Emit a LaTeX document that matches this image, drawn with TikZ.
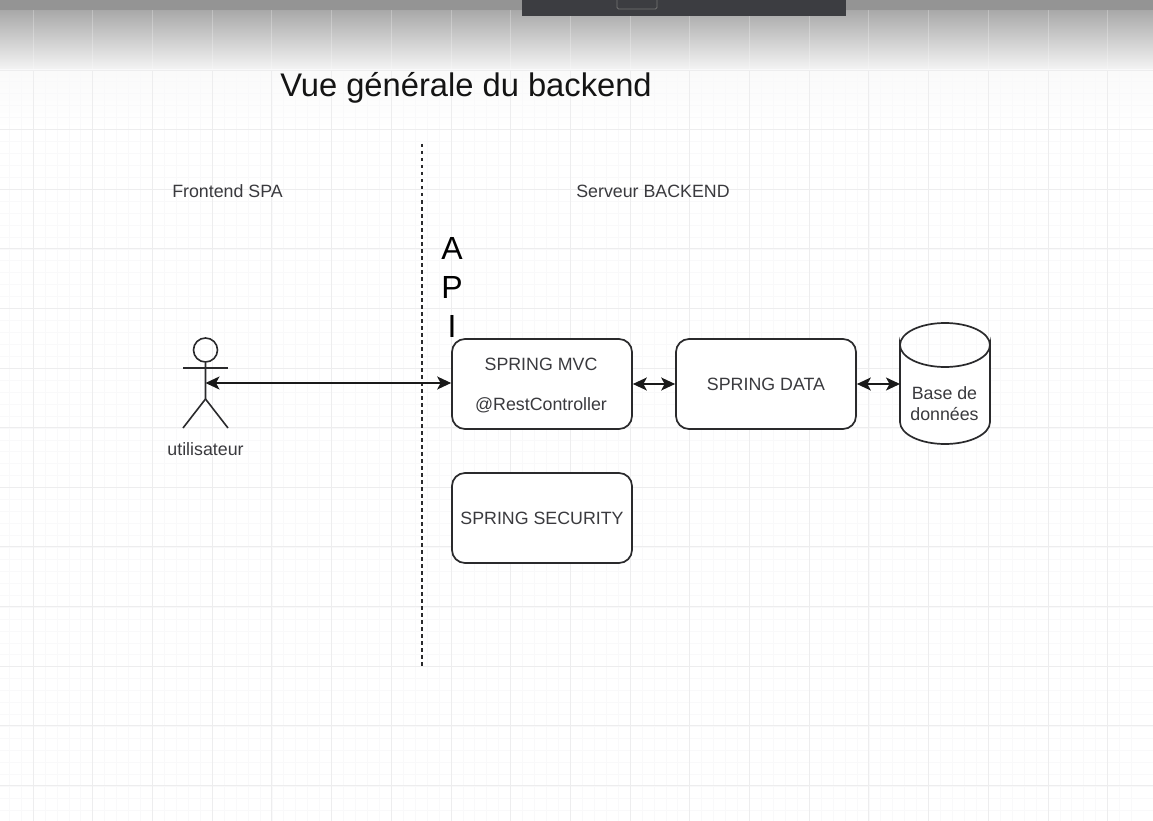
\documentclass[tikz,border=0pt]{standalone}
\usepackage{fontspec}
\setmainfont{Liberation Sans}
\usetikzlibrary{arrows.meta}
\definecolor{ink}{HTML}{2A2A2C}
\definecolor{labelc}{HTML}{3A3A3E}
\definecolor{gridmajor}{HTML}{EDEDEE}
\definecolor{gridminor}{HTML}{F9F9FA}
\definecolor{barc}{HTML}{3C3D41}
\tikzset{
  x=1pt,y=-1pt,
  boxn/.style={draw=ink,line width=1.7pt,rounded corners=13pt,fill=white,minimum width=180pt,minimum height=90pt,inner sep=0pt,align=center,font=\fontsize{17.8}{20}\selectfont,text=labelc},
  lab/.style={inner sep=0pt,font=\fontsize{17.8}{20.5}\selectfont,text=labelc,align=center},
  api/.style={inner sep=0pt,font=\fontsize{32}{36}\selectfont,text=black},
  link/.style={draw=black!90,line width=1.6pt,{Stealth[length=14pt,width=13pt,inset=3.5pt]}-{Stealth[length=14pt,width=13pt,inset=3.5pt]}},
  stick/.style={draw=ink,line width=1.6pt},
}
\begin{document}
\begin{tikzpicture}
\useasboundingbox (0,0) rectangle (1153,821);
\fill[white] (0,0) rectangle (1153,821);
% top shading
\shade[top color=black!34,bottom color=black!4] (0,10) rectangle (1153,70);
\shade[top color=black!2,bottom color=white] (0,70) rectangle (1153,130);
\fill[black!42] (0,0) rectangle (1153,10);
% grid
\foreach \i in {0,...,95}{\draw[gridminor,line width=.6pt] ({33+(\i-3)*11.94},70) -- ({33+(\i-3)*11.94},821);}
\foreach \i in {5,...,68}{\draw[gridminor,line width=.6pt] (0,{10+\i*11.94}) -- (1153,{10+\i*11.94});}
\foreach \i in {0,...,19}{\draw[gridmajor,line width=.8pt] ({33+\i*59.7},70) -- ({33+\i*59.7},821);}
\foreach \i in {0,...,12}{\draw[gridmajor,line width=.8pt] (0,{70+\i*59.6}) -- (1153,{70+\i*59.6});}
\foreach \i in {0,...,19}{\draw[white,opacity=.25,line width=.8pt] ({33+\i*59.7},10) -- ({33+\i*59.7},70);}
% window bar
\fill[barc] (522,0) rectangle (846,16);
\draw[black!55,line width=.8pt,rounded corners=1.5pt] (617,-3) rectangle (657,9);
% title and labels
\node[inner sep=0pt,font=\fontsize{32.7}{38}\selectfont,text=black!92] (title) at (466,88) {Vue générale du backend};
\node[lab] (front) at (227.5,191) {Frontend SPA};
\node[lab] (back) at (653,191) {Serveur BACKEND};
\node[api] (apia) at (452,248) {A};
\node[api] (apip) at (452,287) {P};
\node[api] (apii) at (452,326) {I};
% separator
\coordinate (septop) at (422,144);
\coordinate (sepbot) at (422,667);
\draw[ink,line width=1.7pt,dash pattern=on 3.5pt off 3.5pt] (septop) -- (sepbot);
% actor
\node[draw=ink,line width=1.6pt,circle,minimum size=24pt,inner sep=0pt] (head) at (205.5,350) {};
\coordinate (hip) at (205.5,399);
\coordinate (armL) at (183,368);
\coordinate (armR) at (228,368);
\coordinate (legL) at (183,428);
\coordinate (legR) at (228,428);
\coordinate (actor) at (205.5,383);
\draw[stick] (head.south) -- (hip) -- (legL);
\draw[stick] (hip) -- (legR);
\draw[stick] (armL) -- (armR);
\node[lab] (user) at (205.5,449) {utilisateur};
% boxes
\node[boxn] (mvc) at (542,384) {};
\node[lab] (mvct) at (541,364) {SPRING MVC};
\node[lab] (mvcr) at (541,405) {@RestController};
\node[boxn] (data) at (766,384) {SPRING DATA};
\node[boxn] (sec) at (542,518) {SPRING SECURITY};
% database
\draw[ink,line width=1.7pt,fill=white] (900,345) arc[start angle=180,end angle=0,x radius=45,y radius=22] -- (990,422) arc[start angle=0,end angle=180,x radius=45,y radius=22] -- cycle;
\draw[ink,line width=1.7pt] (900,345) arc[start angle=180,end angle=360,x radius=45,y radius=22];
\coordinate (dbw) at (900,384);
\node[lab] (db) at (944.5,403.5) {Base de\\données};
% connectors
\draw[link] (actor) -- (mvc.west |- actor);
\draw[link] (mvc.east) -- (data.west);
\draw[link] (data.east) -- (dbw);
\end{tikzpicture}
\end{document}
